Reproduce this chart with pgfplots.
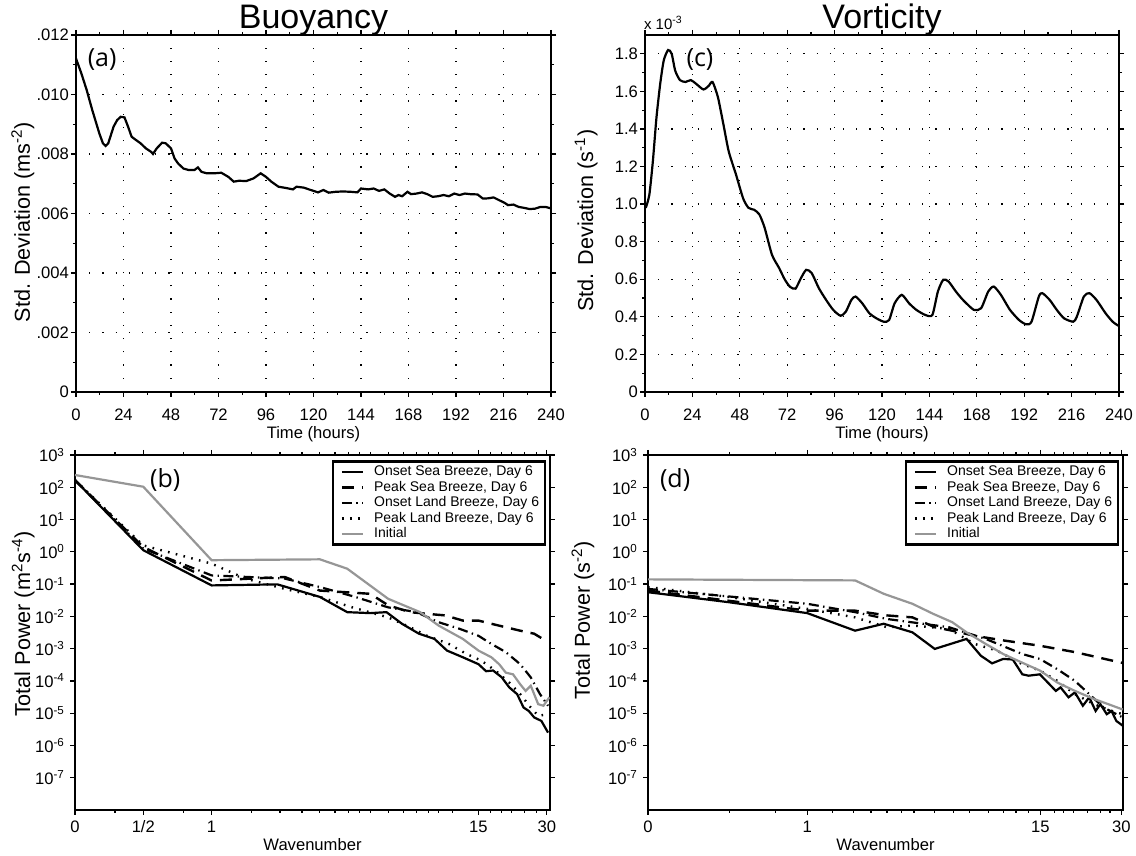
\documentclass[border=0pt]{standalone}
\usepackage{pgfplots}
\pgfplotsset{compat=1.18}
\usepackage{fontspec}
\setmainfont{Liberation Sans}
\newfontfamily\panelfont{Open Sans}
\definecolor{initgray}{RGB}{150,150,150}
\pgfplotsset{
 myaxis/.style={
  scale only axis, anchor=south west, no markers,
  axis line style={line width=1.1pt},
  tick style={black, line width=0.6pt},
  tick align=outside,
  major tick length=2.5pt, minor tick length=1.5pt,
  tick label style={font=\fontsize{8.3}{9.5}\selectfont},
  xticklabel style={text height=1.6ex, text depth=0.3ex},
  /pgf/number format/assume math mode=true,
  xlabel style={font=\fontsize{8.3}{10}\selectfont, anchor=center},
  ylabel style={font=\fontsize{10.8}{12}\selectfont, anchor=center},
  every axis title shift=0pt,
  title style={font=\fontsize{17}{19}\selectfont, at={(0.5,1)}, anchor=base, yshift=3pt},
 },
 topgrid/.style={grid=major, major grid style={black, line width=0.6pt, dash pattern=on 0.6pt off 6pt},
  yticklabel style={xshift=2.5pt}},
 osb/.style={black, line width=1.1pt},
 psb/.style={black, line width=1.2pt, dash pattern=on 6pt off 4pt},
 olb/.style={black, line width=1.1pt, dash pattern=on 5pt off 2.2pt on 0.7pt off 2.2pt},
 plb/.style={black, line width=1.2pt, dash pattern=on 0.8pt off 3.2pt},
 ini/.style={initgray, line width=1.1pt},
 mylegend/.style={
  yticklabel style={xshift=1pt}, xticklabel style={yshift=3pt},
  legend style={at={(0.992,0.985)}, anchor=north east, draw=black, line width=1.1pt,
   font=\fontsize{7}{7.6}\selectfont, inner xsep=1.5pt, inner ysep=1.5pt, row sep=0pt,
   cells={anchor=west},
   nodes={inner xsep=1.5pt, inner ysep=0.5pt, text height=5.2pt, text depth=1.5pt}},
  legend image code/.code={\path (-2.5pt,0pt) (14pt,0pt); \draw[##1] (0pt,0pt) -- (10.5pt,0pt);},
 },
}
\begin{document}
\begin{tikzpicture}
\path[use as bounding box] (0,0) rectangle (568pt,428pt);

% (a) Buoyancy
\begin{axis}[myaxis, topgrid, at={(38pt,232pt)}, width=237.5pt, height=178.5pt,
  xmin=0, xmax=240, ymin=0, ymax=0.012,
  xtick={0,24,48,72,96,120,144,168,192,216,240}, minor x tick num=1,
  ytick={0,0.002,0.004,0.006,0.008,0.010,0.012},
  yticklabels={0,.002,.004,.006,.008,.010,.012}, minor y tick num=1,
  scaled y ticks=false,
  title={Buoyancy},
  xlabel={Time (hours)}, xlabel style={at={(axis description cs:0.5,-0.118)}},
  ylabel={Std. Deviation (ms\textsuperscript{-2})}, ylabel style={at={(axis description cs:-0.112,0.476)}},
]
\addplot[osb] table {
0 0.01121
2.7 0.01071
5.4 0.01015
8.2 0.00948
11.8 0.00869
13.6 0.00836
15 0.00827
16.3 0.00836
19 0.00892
20.8 0.00914
22.6 0.00925
24.5 0.00923
26.3 0.00892
28.1 0.00858
29.9 0.00849
32.6 0.00836
35.3 0.00819
38 0.00807
38.9 0.00800
40.8 0.00819
43.5 0.00838
45.3 0.00836
48 0.00819
49.8 0.00785
51.6 0.00768
54.3 0.00751
57 0.00746
59.8 0.00746
61.6 0.00755
63.4 0.00740
66.1 0.00735
69.7 0.00735
73.4 0.00737
77 0.00723
79.7 0.00707
82.4 0.00710
86 0.00709
89.7 0.00718
93.3 0.00735
96 0.00723
98.7 0.00707
102.3 0.00690
105.9 0.00686
109.6 0.00681
111.4 0.00690
115 0.00687
118.6 0.00679
122.3 0.00671
125 0.00679
127.7 0.00670
131.3 0.00673
134.9 0.00674
138.6 0.00673
142.2 0.00671
144 0.00684
147.6 0.00681
150.4 0.00684
153.1 0.00676
155.8 0.00681
158.5 0.00667
161.2 0.00656
163 0.00662
164.8 0.00658
167.5 0.00673
169.3 0.00665
172.1 0.00667
174.8 0.00671
177.5 0.00665
180.2 0.00656
182.9 0.00658
185.7 0.00662
188.4 0.00658
191.1 0.00667
193.8 0.00662
196.5 0.00667
199.2 0.00665
202.9 0.00664
205.6 0.00650
208.3 0.00651
211 0.00654
213.7 0.00645
216.5 0.00636
218.3 0.00628
221 0.00630
223.7 0.00622
226.4 0.00619
229.1 0.00615
231.8 0.00616
234.6 0.00622
237.3 0.00622
240 0.00617
};
\node[font=\panelfont\fontsize{12.5}{14}\selectfont] at (rel axis cs:0.055,0.93) {(a)};
\end{axis}

% (c) Vorticity
\begin{axis}[myaxis, topgrid, clip=false, at={(322.5pt,232pt)}, width=237pt, height=178.5pt,
  xmin=0, xmax=240, ymin=0, ymax=1.9,
  xtick={0,24,48,72,96,120,144,168,192,216,240}, minor x tick num=1,
  ytick={0,0.2,0.4,0.6,0.8,1.0,1.2,1.4,1.6,1.8},
  yticklabels={0,0.2,0.4,0.6,0.8,1.0,1.2,1.4,1.6,1.8}, minor y tick num=1,
  title={Vorticity},
  xlabel={Time (hours)}, xlabel style={at={(axis description cs:0.5,-0.118)}},
  ylabel={Std. Deviation (s\textsuperscript{-1})}, ylabel style={at={(axis description cs:-0.124,0.48)}},
]
\addplot[osb, smooth, tension=0.4] table {
0.4 0.98
2.2 1.05
4 1.23
5.8 1.46
7.7 1.64
9.5 1.765
11.7 1.82
13.5 1.80
15.3 1.71
17.7 1.66
20.5 1.65
23.2 1.66
25.9 1.64
29.6 1.61
32.3 1.63
34.2 1.65
36.9 1.57
39.6 1.43
42.4 1.28
46 1.16
49.7 1.03
52.4 0.98
55.2 0.97
57.9 0.945
60.6 0.873
64.3 0.73
67.9 0.66
70.7 0.60
73.4 0.56
76.2 0.55
78.9 0.605
81.6 0.65
84.4 0.633
88 0.553
91.7 0.49
95.3 0.437
99 0.406
101.7 0.428
104.5 0.49
106.6 0.508
110 0.472
113.6 0.419
117.2 0.392
120.9 0.374
123.6 0.383
126.4 0.472
130 0.517
133.7 0.472
137.4 0.437
141.9 0.41
145.5 0.41
148.3 0.535
151 0.597
153.7 0.588
157.4 0.535
161 0.49
166.5 0.437
170.2 0.446
173.8 0.535
176.6 0.561
180.2 0.517
184.8 0.437
189.4 0.383
193 0.36
195.7 0.374
199.4 0.508
201.2 0.526
204.9 0.49
208.5 0.437
212.2 0.392
216.8 0.374
218.6 0.40
222.2 0.508
225 0.526
228.6 0.49
233.2 0.419
236.8 0.374
239.6 0.353
};
\node[font=\panelfont\fontsize{12.5}{14}\selectfont] at (rel axis cs:0.116,0.93) {(c)};
\node[font=\fontsize{7.5}{8}\selectfont, anchor=south west, inner sep=0.5pt] at (rel axis cs:-0.005,1.01) {x 10\textsuperscript{-3}};
\end{axis}

% (b) Buoyancy spectrum
\begin{axis}[myaxis, mylegend, at={(37.5pt,23pt)}, width=237.5pt, height=177.5pt,
  xmode=log, ymode=log, xmin=0.25, xmax=31, ymin=1e-8, ymax=1e3,
  xtick={0.25,0.5,1,15,30}, xticklabels={0,1/2,1,15,30},
  minor xtick={0.375,0.75,1.5,2,2.5,3,3.5,4,4.5,5,6,7,8,9,10,11.5,17,19,21,24,27},
  ytick={1e-7,1e-6,1e-5,1e-4,1e-3,1e-2,1e-1,1,10,100,1000},
  yticklabels={10\textsuperscript{-7},10\textsuperscript{-6},10\textsuperscript{-5},10\textsuperscript{-4},10\textsuperscript{-3},10\textsuperscript{-2},10\textsuperscript{-1},10\textsuperscript{0},10\textsuperscript{1},10\textsuperscript{2},10\textsuperscript{3}},
  yminorticks=false,
  xlabel={Wavenumber}, xlabel style={at={(axis description cs:0.5,-0.0986)}},
  ylabel={Total Power (m\textsuperscript{2}s\textsuperscript{-4})}, ylabel style={at={(axis description cs:-0.109,0.524)}},
]
\addplot[osb] table {
0.25 166
0.5 1.12
1 0.091
1.95 0.098
3 0.04
3.96 0.0135
5 0.0126
5.9 0.0135
6.9 0.0059
8.2 0.0029
9.6 0.002
10.9 8.7e-4
12.8 5.4e-4
15 3.3e-4
16.2 2.0e-4
17.4 2.1e-4
19 1.29e-4
20.5 6.3e-5
22.2 3.9e-5
23.7 1.5e-5
25 1.17e-5
26.4 7.4e-6
28.4 5.75e-6
30.4 2.5e-6
};
\addlegendentry{Onset Sea Breeze, Day 6}
\addplot[psb] table {
0.25 166
0.5 1.41
1 0.129
2.1 0.166
3 0.063
5 0.05
6 0.022
7.5 0.0135
8.9 0.012
10.7 0.0107
12.8 0.0074
15 0.0074
18.4 0.0052
22.9 0.0036
26.4 0.0029
30.4 0.0016
};
\addlegendentry{Peak Sea Breeze, Day 6}
\addplot[olb] table {
0.25 166
0.5 1.26
1 0.186
2.1 0.148
3 0.081
4.3 0.04
6 0.019
8 0.0135
10 0.0066
12.4 0.0041
15 0.0025
17.1 0.0014
19.8 7.8e-4
22.9 3.3e-4
25.5 1.29e-4
28 3.9e-5
30.4 1.7e-5
};
\addlegendentry{Onset Land Breeze, Day 6}
\addplot[plb] table {
0.25 166
0.5 1.58
1 0.43
1.41 0.148
2.1 0.071
3 0.04
4.17 0.019
6 0.0093
7.5 0.0046
8.9 0.0025
11.1 0.0014
13.3 6.8e-4
15.4 4.3e-4
17.8 2.1e-4
20.5 8.9e-5
22.9 3.9e-5
25.5 1.5e-5
27.5 8.3e-6
30.4 9.3e-6
};
\addlegendentry{Peak Land Breeze, Day 6}
\addplot[ini] table {
0.25 240
0.5 104
1 0.55
3.0 0.585
3.96 0.30
6.0 0.035
8.3 0.0135
10 0.0052
12.8 0.002
15 8.7e-4
17.1 5.4e-4
18.5 3.3e-4
19.8 1.8e-4
21.3 1.6e-4
22.9 7.9e-5
24.2 4.9e-5
25.5 7.1e-5
27.5 1.9e-5
29 1.7e-5
30.8 3.1e-5
};
\addlegendentry{Initial}
\node[font=\panelfont\fontsize{12.5}{14}\selectfont] at (rel axis cs:0.19,0.93) {(b)};
\end{axis}

% (d) Vorticity spectrum (x: position along the wavenumber axis, 1 = wavenumber 1)
\begin{axis}[myaxis, mylegend, at={(324pt,23pt)}, width=237.5pt, height=177.5pt,
  ymode=log, xmin=0, xmax=2.982, ymin=1e-8, ymax=1e3,
  xtick={0,1,2.463,2.971}, xticklabels={0,1,15,30},
  minor xtick={0.51,0.80,1.16,1.29,1.40,1.50,1.59,1.67,1.80,1.92,2.02,2.14,2.23,2.31,2.39,2.55,2.61,2.67,2.76,2.84,2.90},
  ytick={1e-7,1e-6,1e-5,1e-4,1e-3,1e-2,1e-1,1,10,100,1000},
  yticklabels={10\textsuperscript{-7},10\textsuperscript{-6},10\textsuperscript{-5},10\textsuperscript{-4},10\textsuperscript{-3},10\textsuperscript{-2},10\textsuperscript{-1},10\textsuperscript{0},10\textsuperscript{1},10\textsuperscript{2},10\textsuperscript{3}},
  yminorticks=false,
  xlabel={Wavenumber}, xlabel style={at={(axis description cs:0.5,-0.0986)}},
  ylabel={Total Power (s\textsuperscript{-2})}, ylabel style={at={(axis description cs:-0.137,0.535)}},
]
\addplot[osb] table {
0 0.056
0.506 0.0275
1 0.0126
1.30 0.0036
1.48 0.0059
1.66 0.0032
1.80 9.8e-4
2.0 0.002
2.09 6.0e-4
2.16 3.5e-4
2.23 4.8e-4
2.29 4.6e-4
2.35 1.6e-4
2.39 1.45e-4
2.46 1.6e-4
2.52 7.9e-5
2.56 4.9e-5
2.59 6.3e-5
2.64 3.1e-5
2.68 4.4e-5
2.73 1.7e-5
2.77 3.1e-5
2.81 1.17e-5
2.84 1.9e-5
2.88 9.3e-6
2.91 1.17e-5
2.94 5.75e-6
2.98 4.1e-6
};
\addlegendentry{Onset Sea Breeze, Day 6}
\addplot[psb] table {
0 0.063
1 0.015
1.30 0.015
1.50 0.0107
1.66 0.0093
1.80 0.0046
1.91 0.0036
2.05 0.0025
2.23 0.0018
2.46 0.00123
2.68 7.8e-4
2.91 4.3e-4
2.98 3.6e-4
};
\addlegendentry{Peak Sea Breeze, Day 6}
\addplot[olb] table {
0 0.071
1 0.0245
1.30 0.0135
1.50 0.0083
1.89 0.0046
2.12 0.002
2.35 6.8e-4
2.46 4.8e-4
2.57 2.3e-4
2.68 1.0e-4
2.77 3.9e-5
2.86 1.5e-5
2.98 7.4e-6
};
\addlegendentry{Onset Land Breeze, Day 6}
\addplot[plb] table {
0 0.081
0.506 0.04
1 0.017
1.30 0.0093
1.50 0.0046
1.66 0.0052
1.89 0.0041
2.05 0.0014
2.19 8.7e-4
2.35 3.3e-4
2.46 2.1e-4
2.57 1.0e-4
2.68 3.9e-5
2.80 1.9e-5
2.91 1.17e-5
2.98 9.3e-6
};
\addlegendentry{Peak Land Breeze, Day 6}
\addplot[ini] table {
0 0.14
1.30 0.13
1.48 0.05
1.66 0.0245
1.79 0.012
1.91 0.0066
2.0 0.0032
2.12 0.0014
2.23 6.8e-4
2.37 3.3e-4
2.46 2.1e-4
2.57 8.9e-5
2.68 4.9e-5
2.80 2.75e-5
2.89 1.9e-5
2.98 1.3e-5
};
\addlegendentry{Initial}
\node[font=\panelfont\fontsize{12.5}{14}\selectfont] at (rel axis cs:0.057,0.93) {(d)};
\end{axis}
\end{tikzpicture}
\end{document}
